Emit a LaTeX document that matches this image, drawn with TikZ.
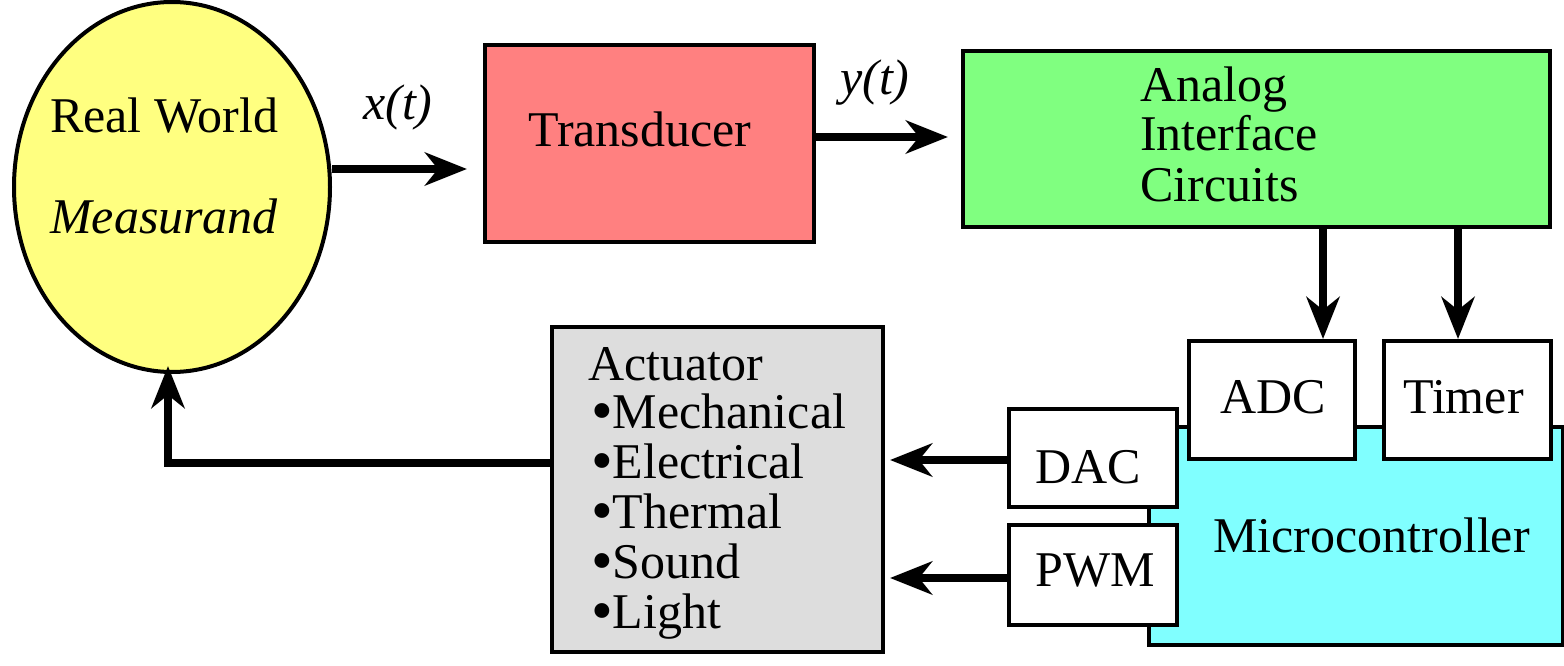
\documentclass[tikz,border=0pt]{standalone}
\usepackage{fontspec}
\setmainfont{Liberation Serif}
\usetikzlibrary{arrows.meta,shapes.geometric}
\definecolor{cyel}{HTML}{FFFF80}
\definecolor{cred}{HTML}{FF8080}
\definecolor{cgrn}{HTML}{80FF80}
\definecolor{ccyn}{HTML}{80FFFF}
\definecolor{cgry}{HTML}{DDDDDD}
\newcommand{\bul}{\smash{\fontsize{62}{62}\selectfont\raisebox{-3pt}{•}}}
\tikzset{
  box/.style={draw=black, line width=4pt, rectangle, inner sep=0pt, anchor=north west},
  lbl/.style={inner sep=0pt, anchor=base west, font=\fontsize{50}{50}\selectfont},
  arr/.style={line width=8.5pt, -{Stealth[length=42pt,width=33pt,inset=13pt]}},
}
\begin{document}
\begin{tikzpicture}[x=1pt,y=-1pt]
\useasboundingbox (0,0) rectangle (1564,666);
% shapes
\node[ellipse, draw=black, fill=cyel, line width=4pt, minimum width=316pt, minimum height=370pt, inner sep=0pt] (rw) at (172,187) {};
\node[box, fill=cred, minimum width=329pt, minimum height=197pt] (tr) at (483,43) {};
\node[box, fill=cgrn, minimum width=587pt, minimum height=176pt] (ai) at (961,49) {};
\node[box, fill=cgry, minimum width=331pt, minimum height=325pt] (act) at (550,325) {};
\node[box, fill=ccyn, minimum width=414pt, minimum height=218pt] (mc) at (1147,425) {};
\node[box, fill=white, minimum width=166pt, minimum height=118pt] (adc) at (1187,339) {};
\node[box, fill=white, minimum width=167pt, minimum height=118pt] (tim) at (1382,339) {};
\node[box, fill=white, minimum width=168pt, minimum height=98pt] (dac) at (1007,407) {};
\node[box, fill=white, minimum width=168pt, minimum height=100pt] (pwm) at (1007,523) {};
% texts
\node[lbl] (t1) at (50,133) {Real World};
\node[lbl] (t2) at (50,233) {\itshape Measurand};
\node[lbl] (t3) at (363,120) {\itshape x(t)};
\node[lbl] (t4) at (528,147) {Transducer};
\node[lbl] (t5) at (840,95) {\itshape y(t)};
\node[lbl] (t6) at (1140,102) {Analog};
\node[lbl] (t7) at (1140,151) {Interface};
\node[lbl] (t8) at (1140,201) {Circuits};
\node[lbl] (t9) at (1220,413) {ADC};
\node[lbl] (t10) at (1403,413) {Timer};
\node[lbl] (t11) at (1213,552) {Microcontroller};
\node[lbl] (t12) at (1035,483) {DAC};
\node[lbl] (t13) at (1035,586) {PWM};
\node[lbl] (t14) at (588,380) {Actuator};
\node[lbl] (t15) at (591,428) {\bul Mechanical};
\node[lbl] (t16) at (591,478) {\bul Electrical};
\node[lbl] (t17) at (591,528) {\bul Thermal};
\node[lbl] (t18) at (591,578) {\bul Sound};
\node[lbl] (t19) at (591,628) {\bul Light};
% connectors
\coordinate (ya) at (0,169);
\coordinate (yb) at (0,137);
\coordinate (xa) at (1323,0);
\coordinate (xb) at (1458,0);
\coordinate (yc) at (0,460);
\coordinate (yd) at (0,578);
\coordinate (ye) at (0,463);
\coordinate (fb) at (168,366);
\draw[arr, shorten >=16pt] (rw.east |- ya) -- (tr.west |- ya);
\draw[arr, shorten >=13pt] (tr.east |- yb) -- (ai.west |- yb);
\draw[arr] (ai.south -| xa) -- (adc.north -| xa);
\draw[arr] (ai.south -| xb) -- (tim.north -| xb);
\draw[arr, shorten >=5pt] (dac.west |- yc) -- (act.east |- yc);
\draw[arr, shorten >=5pt] (pwm.west |- yd) -- (act.east |- yd);
\draw[arr] (act.west |- ye) -| (fb);
\end{tikzpicture}
\end{document}
